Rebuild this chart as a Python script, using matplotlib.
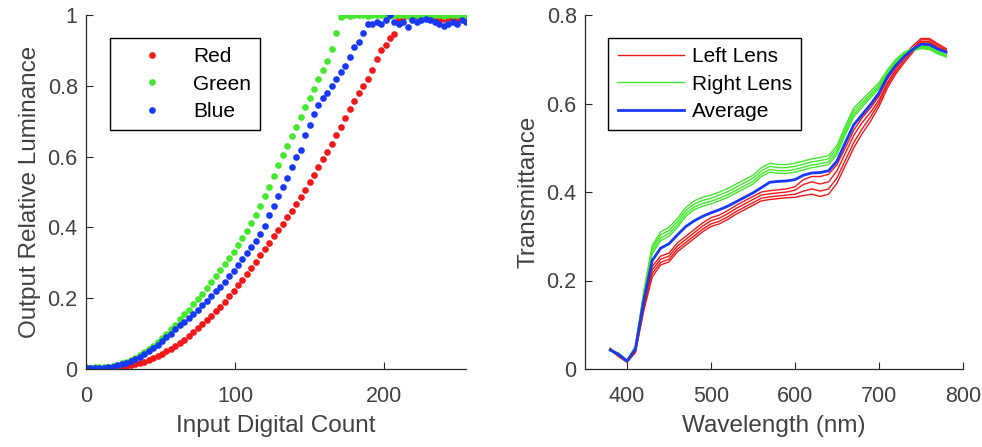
import numpy as np
import matplotlib
matplotlib.use("Agg")
import matplotlib.pyplot as plt

plt.rcParams['font.family'] = ['Liberation Sans', 'DejaVu Sans']

# ---------------- left panel: luminance vs digital count ----------------
counts = np.arange(0, 256, 3)

lum_red = [0.002, 0.002, 0.002, 0.002, 0.002, 0.002, 0.002, 0.003, 0.005, 0.007,
           0.010, 0.013, 0.017, 0.021, 0.026, 0.031, 0.037, 0.043, 0.050, 0.057,
           0.065, 0.073, 0.083, 0.093, 0.104, 0.115, 0.126, 0.138, 0.150, 0.163,
           0.176, 0.190, 0.205, 0.220, 0.236, 0.252, 0.269, 0.286, 0.303, 0.321,
           0.339, 0.357, 0.375, 0.392, 0.410, 0.428, 0.447, 0.467, 0.487, 0.507,
           0.527, 0.548, 0.570, 0.592, 0.614, 0.637, 0.660, 0.685, 0.710, 0.735,
           0.758, 0.780, 0.800, 0.820, 0.845, 0.875, 0.900, 0.915, 0.935, 0.945,
           0.990, 0.995, 0.997, 0.995, 0.998, 0.996, 0.995, 0.997, 0.993, 0.985,
           0.990, 0.992, 0.988, 0.990, 0.993, 0.990]

lum_green = [0.005, 0.004, 0.005, 0.005, 0.006, 0.007, 0.009, 0.012, 0.016, 0.020,
             0.026, 0.032, 0.039, 0.047, 0.056, 0.066, 0.076, 0.087, 0.099, 0.112,
             0.125, 0.140, 0.154, 0.168, 0.183, 0.198, 0.213, 0.229, 0.245, 0.262,
             0.279, 0.296, 0.313, 0.331, 0.351, 0.370, 0.390, 0.412, 0.435, 0.460,
             0.490, 0.515, 0.545, 0.575, 0.605, 0.630, 0.658, 0.685, 0.712, 0.740,
             0.765, 0.790, 0.818, 0.845, 0.870, 0.905, 0.950, 0.995,
             1.000, 0.998, 1.000, 0.999, 1.000, 0.997, 1.000, 0.999, 1.000, 1.000,
             0.998, 1.000, 0.999, 1.000, 0.997, 1.000, 1.000, 0.999, 0.998, 1.000,
             0.999, 1.000, 0.998, 1.000, 0.999, 1.000, 0.998, 1.000]

lum_blue = [0.003, 0.004, 0.003, 0.004, 0.004, 0.005, 0.007, 0.010, 0.014, 0.018,
            0.023, 0.029, 0.035, 0.042, 0.050, 0.059, 0.068, 0.078, 0.089, 0.100,
            0.112, 0.123, 0.134, 0.145, 0.156, 0.168, 0.180, 0.193, 0.206, 0.219,
            0.233, 0.247, 0.262, 0.277, 0.293, 0.310, 0.327, 0.345, 0.362, 0.380,
            0.405, 0.435, 0.460, 0.490, 0.515, 0.540, 0.570, 0.600, 0.620, 0.660,
            0.690, 0.720, 0.745, 0.765, 0.780, 0.800, 0.820, 0.840, 0.855, 0.880,
            0.910, 0.925, 0.950, 0.975, 0.975, 0.980, 0.975, 0.985, 1.000, 0.980,
            0.975, 0.980, 0.965, 0.985, 0.980, 0.985, 0.990, 0.985, 0.980, 0.975,
            0.970, 0.975, 0.980, 0.975, 0.985, 0.980]

# ---------------- right panel: lens transmittance ----------------
wavelength = np.arange(380, 781, 10)

left_lens = [
    [0.047, 0.032, 0.019, 0.042, 0.148, 0.232, 0.255, 0.262, 0.285, 0.300, 0.315,
     0.330, 0.342, 0.348, 0.358, 0.370, 0.380, 0.390, 0.400, 0.403, 0.405, 0.407,
     0.412, 0.428, 0.435, 0.435, 0.440, 0.462, 0.500, 0.540, 0.568, 0.590, 0.617,
     0.655, 0.683, 0.708, 0.730, 0.747, 0.747, 0.735, 0.724],
    [0.045, 0.031, 0.018, 0.041, 0.143, 0.224, 0.248, 0.255, 0.278, 0.293, 0.308,
     0.323, 0.335, 0.341, 0.351, 0.363, 0.373, 0.383, 0.393, 0.396, 0.398, 0.400,
     0.404, 0.417, 0.423, 0.418, 0.423, 0.448, 0.488, 0.528, 0.557, 0.580, 0.608,
     0.647, 0.677, 0.702, 0.724, 0.744, 0.744, 0.732, 0.721],
    [0.044, 0.029, 0.016, 0.039, 0.137, 0.216, 0.241, 0.248, 0.271, 0.286, 0.301,
     0.316, 0.328, 0.334, 0.344, 0.356, 0.366, 0.376, 0.386, 0.389, 0.391, 0.393,
     0.395, 0.402, 0.407, 0.402, 0.407, 0.432, 0.472, 0.512, 0.543, 0.570, 0.601,
     0.642, 0.672, 0.697, 0.720, 0.740, 0.740, 0.728, 0.719],
    [0.043, 0.028, 0.015, 0.037, 0.132, 0.208, 0.235, 0.242, 0.265, 0.280, 0.295,
     0.310, 0.322, 0.328, 0.338, 0.350, 0.360, 0.370, 0.380, 0.383, 0.385, 0.387,
     0.388, 0.392, 0.395, 0.390, 0.395, 0.420, 0.460, 0.500, 0.532, 0.560, 0.593,
     0.635, 0.667, 0.692, 0.715, 0.737, 0.737, 0.725, 0.715],
]

right_lens = [
    [0.044, 0.036, 0.019, 0.052, 0.176, 0.279, 0.310, 0.320, 0.340, 0.365, 0.380,
     0.388, 0.393, 0.400, 0.408, 0.418, 0.428, 0.438, 0.455, 0.465, 0.462, 0.462,
     0.465, 0.470, 0.475, 0.478, 0.482, 0.505, 0.550, 0.590, 0.609, 0.628, 0.647,
     0.676, 0.700, 0.716, 0.725, 0.730, 0.728, 0.718, 0.710],
    [0.043, 0.035, 0.018, 0.051, 0.172, 0.273, 0.303, 0.313, 0.333, 0.358, 0.373,
     0.381, 0.386, 0.393, 0.401, 0.411, 0.421, 0.431, 0.448, 0.458, 0.455, 0.455,
     0.458, 0.463, 0.468, 0.471, 0.475, 0.498, 0.543, 0.583, 0.603, 0.622, 0.642,
     0.672, 0.697, 0.713, 0.723, 0.728, 0.726, 0.716, 0.709],
    [0.042, 0.034, 0.017, 0.049, 0.168, 0.266, 0.296, 0.306, 0.326, 0.351, 0.366,
     0.374, 0.379, 0.386, 0.394, 0.404, 0.414, 0.424, 0.441, 0.451, 0.448, 0.448,
     0.451, 0.456, 0.461, 0.464, 0.468, 0.491, 0.536, 0.576, 0.597, 0.618, 0.638,
     0.668, 0.693, 0.711, 0.721, 0.726, 0.724, 0.714, 0.707],
    [0.041, 0.033, 0.016, 0.047, 0.163, 0.260, 0.290, 0.300, 0.320, 0.345, 0.360,
     0.368, 0.373, 0.380, 0.388, 0.398, 0.408, 0.418, 0.435, 0.445, 0.442, 0.442,
     0.445, 0.450, 0.455, 0.458, 0.462, 0.485, 0.530, 0.570, 0.592, 0.613, 0.634,
     0.665, 0.690, 0.708, 0.719, 0.724, 0.722, 0.712, 0.705],
]

average = [0.043, 0.033, 0.018, 0.045, 0.155, 0.245, 0.273, 0.283, 0.303, 0.322, 0.335,
           0.345, 0.353, 0.360, 0.368, 0.378, 0.388, 0.398, 0.410, 0.422, 0.424, 0.425,
           0.428, 0.438, 0.443, 0.444, 0.448, 0.470, 0.512, 0.552, 0.575, 0.598, 0.624,
           0.660, 0.686, 0.706, 0.722, 0.734, 0.733, 0.723, 0.716]

RED = '#f01818'
GREEN = '#45e82e'
BLUE = '#1838f5'
AX_COL = '#262626'
TXT_COL = '#404040'

fig = plt.figure(figsize=(9.82, 4.47), dpi=100)
ax1 = fig.add_axes([86 / 982, 78 / 447, 380 / 982, 354 / 447])
ax2 = fig.add_axes([585 / 982, 78 / 447, 378 / 982, 354 / 447])

ax1.plot(counts, lum_red, 'o', color=RED, ms=4.8, mec='none', label='Red')
ax1.plot(counts, lum_green, 'o', color=GREEN, ms=4.8, mec='none', label='Green')
ax1.plot(counts, lum_blue, 'o', color=BLUE, ms=4.8, mec='none', label='Blue')
ax1.set_xlim(0, 255)
ax1.set_ylim(0, 1)
ax1.set_xticks([0, 100, 200])
ax1.set_yticks([0, 0.2, 0.4, 0.6, 0.8, 1])
ax1.set_yticklabels(['0', '0.2', '0.4', '0.6', '0.8', '1'])
ax1.set_xlabel('Input Digital Count', fontsize=17.5, color=TXT_COL, labelpad=6)
ax1.set_ylabel('Output Relative Luminance', fontsize=17.5, color=TXT_COL, labelpad=5)

for i, ln in enumerate(left_lens):
    ax2.plot(wavelength, ln, color=RED, lw=1.0, label='Left Lens' if i == 0 else None)
for i, ln in enumerate(right_lens):
    ax2.plot(wavelength, ln, color=GREEN, lw=1.0, label='Right Lens' if i == 0 else None)
ax2.plot(wavelength, average, color=BLUE, lw=2.0, label='Average')
ax2.set_xlim(350, 800)
ax2.set_ylim(0, 0.8)
ax2.set_xticks([400, 500, 600, 700, 800])
ax2.set_yticks([0, 0.2, 0.4, 0.6, 0.8])
ax2.set_yticklabels(['0', '0.2', '0.4', '0.6', '0.8'])
ax2.set_xlabel('Wavelength (nm)', fontsize=17.5, color=TXT_COL, labelpad=6)
ax2.set_ylabel('Transmittance', fontsize=17.5, color=TXT_COL, labelpad=5)

for ax in (ax1, ax2):
    ax.spines['top'].set_visible(False)
    ax.spines['right'].set_visible(False)
    for s in ('left', 'bottom'):
        ax.spines[s].set_color(AX_COL)
        ax.spines[s].set_linewidth(0.9)
    ax.tick_params(direction='in', length=5, width=0.8, color=AX_COL,
                   labelcolor=TXT_COL, labelsize=15.5)
    ax.tick_params(axis='x', pad=12)
    ax.tick_params(axis='y', pad=6)
    leg = ax.legend(loc='upper left', bbox_to_anchor=(0.062, 0.935), borderaxespad=0,
                    fancybox=False, edgecolor='black', framealpha=1, fontsize=15,
                    handlelength=3.2, handletextpad=0.35, labelspacing=0.4,
                    borderpad=0.45, numpoints=1)
    leg.get_frame().set_linewidth(1.0)

fig.savefig('out.png', dpi=100, facecolor='white')
